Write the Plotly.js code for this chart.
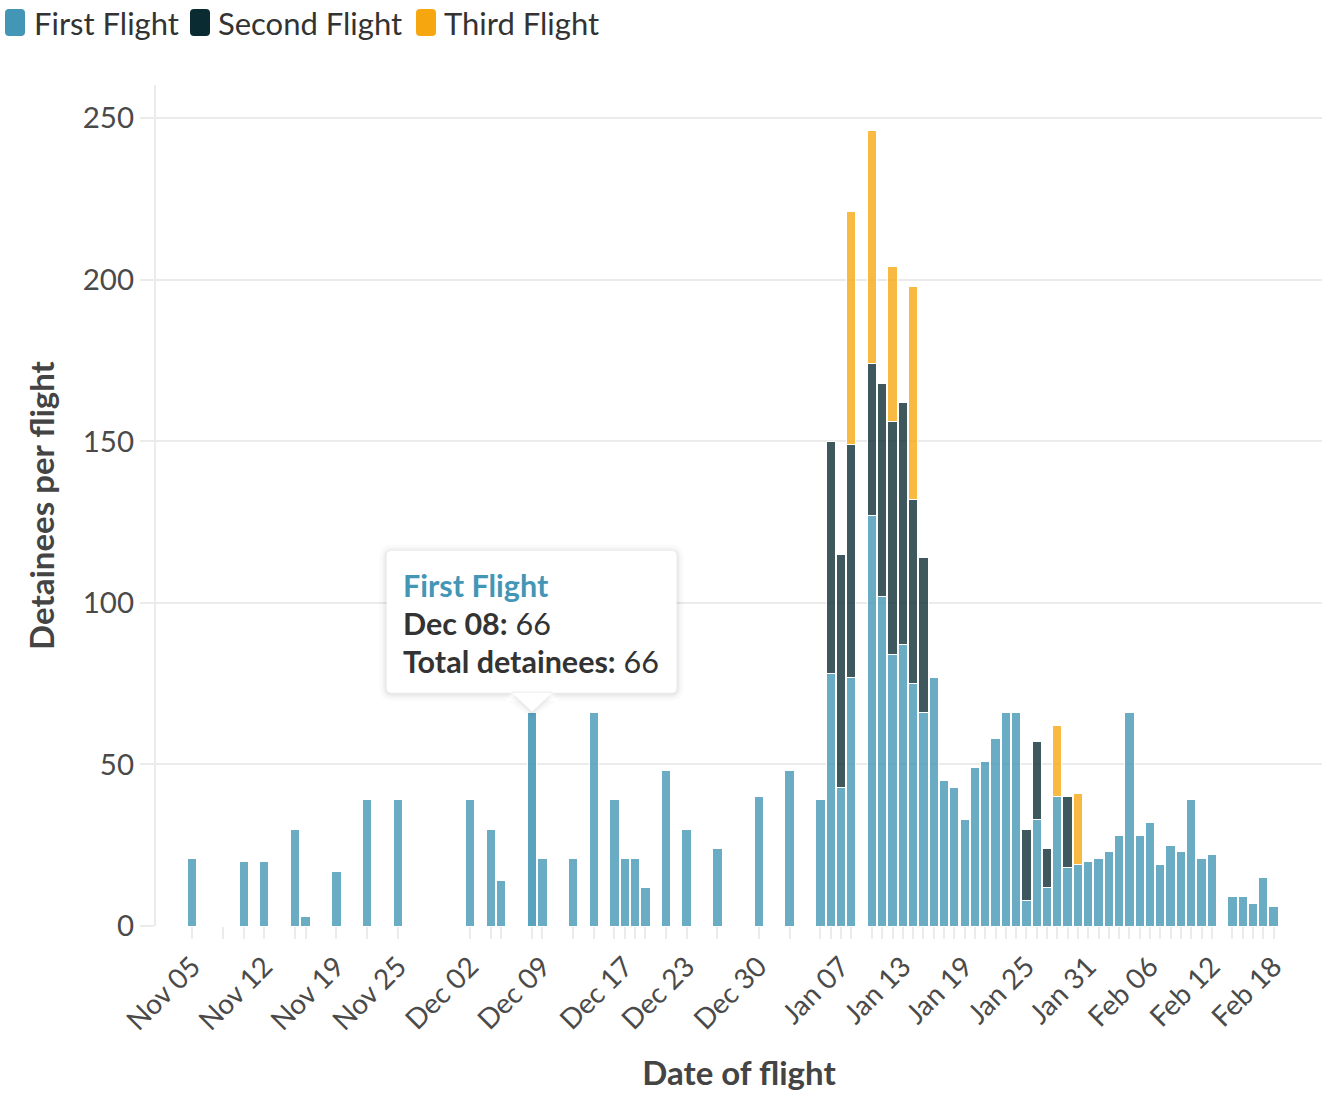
<!DOCTYPE html>
<html>
<head>
<meta charset="utf-8">
<script src="https://cdn.plot.ly/plotly-3.0.1.min.js"></script>
<style>
  html, body { margin: 0; padding: 0; background: #ffffff; }
  #chart { width: 1331px; height: 1104px; }
</style>
</head>
<body>
<div id="chart"></div>
<script>
// ---------- DATA ----------
const dates = [
  '2024-11-05','2024-11-08','2024-11-10','2024-11-12','2024-11-15','2024-11-16','2024-11-19','2024-11-22','2024-11-25',
  '2024-12-02','2024-12-04','2024-12-05','2024-12-08','2024-12-09','2024-12-12','2024-12-14','2024-12-16','2024-12-17',
  '2024-12-18','2024-12-19','2024-12-21','2024-12-23','2024-12-26','2024-12-30','2025-01-02','2025-01-05','2025-01-06',
  '2025-01-07','2025-01-08','2025-01-10','2025-01-11','2025-01-12','2025-01-13','2025-01-14','2025-01-15','2025-01-16',
  '2025-01-17','2025-01-18','2025-01-19','2025-01-20','2025-01-21','2025-01-22','2025-01-23','2025-01-24','2025-01-25',
  '2025-01-26','2025-01-27','2025-01-28','2025-01-29','2025-01-30','2025-01-31','2025-02-01','2025-02-02','2025-02-03',
  '2025-02-04','2025-02-05','2025-02-06','2025-02-07','2025-02-08','2025-02-09','2025-02-10','2025-02-11','2025-02-12',
  '2025-02-14','2025-02-15','2025-02-16','2025-02-17','2025-02-18'
];
const firstFlight = [
  21, 0, 20, 20, 30, 3, 17, 39, 39,
  39, 30, 14, 66, 21, 21, 66, 39, 21,
  21, 12, 48, 30, 24, 40, 48, 39, 78,
  43, 77, 127, 102, 84, 87, 75, 66, 77,
  45, 43, 33, 49, 51, 58, 66, 66, 8,
  33, 12, 40, 18, 19, 20, 21, 23, 28,
  66, 28, 32, 19, 25, 23, 39, 21, 22,
  9, 9, 7, 15, 6
];
const secondFlight = [
  null, null, null, null, null, null, null, null, null,
  null, null, null, null, null, null, null, null, null,
  null, null, null, null, null, null, null, null, 72,
  72, 72, 47, 66, 72, 75, 57, 48, null,
  null, null, null, null, null, null, null, null, 22,
  24, 12, null, 22, null, null, null, null, null,
  null, null, null, null, null, null, null, null, null,
  null, null, null, null, null
];
const thirdFlight = [
  null, null, null, null, null, null, null, null, null,
  null, null, null, null, null, null, null, null, null,
  null, null, null, null, null, null, null, null, null,
  null, 72, 72, null, 48, null, 66, null, null,
  null, null, null, null, null, null, null, null, null,
  null, null, 22, null, 22, null, null, null, null,
  null, null, null, null, null, null, null, null, null,
  null, null, null, null, null
];
const seriesNames = ['First Flight', 'Second Flight', 'Third Flight'];
const labelDates = ['2024-11-05','2024-11-12','2024-11-19','2024-11-25','2024-12-02','2024-12-09','2024-12-17',
  '2024-12-23','2024-12-30','2025-01-07','2025-01-13','2025-01-19','2025-01-25','2025-01-31','2025-02-06',
  '2025-02-12','2025-02-18'];
const tickLabels = ['Nov 05','Nov 12','Nov 19','Nov 25','Dec 02','Dec 09','Dec 17','Dec 23','Dec 30',
  'Jan 07','Jan 13','Jan 19','Jan 25','Jan 31','Feb 06','Feb 12','Feb 18'];
const yTickValues = [0, 50, 100, 150, 200, 250];
const hoverDate = '2024-12-08';
const monthNames = ['Jan','Feb','Mar','Apr','May','Jun','Jul','Aug','Sep','Oct','Nov','Dec'];

// ---------- STYLE ----------
const FONT = 'Lato, "Open Sans", sans-serif';
const solidColors = ['#4396b6', '#0b2b33', '#f6a70f'];
const barColors = ['rgba(67,150,182,0.79)', 'rgba(11,43,51,0.79)', 'rgba(246,167,15,0.79)'];
const hoverBarColor = 'rgba(67,150,182,0.88)';
const DAY = 86400000;

const hIdx = dates.indexOf(hoverDate);
const firstColors = dates.map(d => d === hoverDate ? hoverBarColor : barColors[0]);
const seriesValues = [firstFlight, secondFlight, thirdFlight];

const traces = seriesValues.map((vals, k) => ({
  type: 'bar',
  x: dates,
  y: vals,
  name: seriesNames[k],
  width: 0.9 * DAY,
  marker: {
    color: k === 0 ? firstColors : barColors[k],
    line: { color: '#ffffff', width: 1 }
  },
  showlegend: false,
  hoverinfo: 'skip'
}));

const ticktext = dates.map(d => {
  const j = labelDates.indexOf(d);
  return j >= 0 ? tickLabels[j] : '';
});

// tooltip content from data
const hv = firstFlight[hIdx];
const total = seriesValues.reduce((s, arr) => s + (arr[hIdx] || 0), 0);
const hd = new Date(hoverDate + 'T00:00:00Z');
const hLabel = monthNames[hd.getUTCMonth()] + ' ' + String(hd.getUTCDate()).padStart(2, '0');

function roundRect(x0, y0, x1, y1, r) {
  return `M${x0 + r},${y0} L${x1 - r},${y0} Q${x1},${y0} ${x1},${y0 + r} L${x1},${y1 - r} Q${x1},${y1} ${x1 - r},${y1} ` +
         `L${x0 + r},${y1} Q${x0},${y1} ${x0},${y1 - r} L${x0},${y0 + r} Q${x0},${y0} ${x0 + r},${y0} Z`;
}

const shapes = [];
[[7, 'rgba(0,0,0,0.02)'], [4, 'rgba(0,0,0,0.03)'], [2, 'rgba(0,0,0,0.035)']].forEach(([e, c]) => {
  shapes.push({
    type: 'path', xref: 'x', yref: 'y', xsizemode: 'pixel', ysizemode: 'pixel',
    xanchor: hoverDate, yanchor: hv, layer: 'above',
    path: roundRect(-145.5 - e, 20 - e - 1, 144.5 + e, 162 + e - 1, 6 + e) +
          ` M${-21 - e},${22 - e} L0,${1 - e} L${21 + e},${22 - e} Z`,
    fillcolor: c, line: { width: 0 }
  });
});
shapes.push({
  type: 'path', xref: 'x', yref: 'y', xsizemode: 'pixel', ysizemode: 'pixel',
  xanchor: hoverDate, yanchor: hv, layer: 'above',
  path: roundRect(-145.5, 20, 144.5, 162, 5) + ' M-21,21 L0,1 L21,21 Z',
  fillcolor: '#ffffff', line: { width: 0 }
});
const legendSwatchX = [5, 190, 416];
const legendTextX = [32, 216, 442];
seriesNames.forEach((n, k) => {
  const x0 = legendSwatchX[k] - 156;
  shapes.push({
    type: 'path', xref: 'paper', yref: 'paper', xsizemode: 'pixel', ysizemode: 'pixel',
    xanchor: 0, yanchor: 1, layer: 'above',
    path: roundRect(x0, 85 - 36, x0 + 20, 85 - 9, 4),
    fillcolor: solidColors[k], line: { width: 0 }
  });
});

const annotations = [];
seriesNames.forEach((n, k) => {
  annotations.push({
    xref: 'paper', yref: 'paper', x: 0, y: 1, xanchor: 'left', yanchor: 'middle',
    xshift: legendTextX[k] - 156, yshift: 85 - 23,
    text: n, showarrow: false,
    font: { family: FONT, size: 31, color: '#333333' }
  });
});
const tipLines = [
  { text: `<b>${seriesNames[0]}</b>`, color: solidColors[0], dy: 127.5 },
  { text: `<b>${hLabel}:</b> ${hv}`, color: '#333333', dy: 89.5 },
  { text: `<b>Total detainees:</b> ${total}`, color: '#333333', dy: 51.5 }
];
tipLines.forEach(t => {
  annotations.push({
    xref: 'x', yref: 'y', x: hoverDate, y: hv, xanchor: 'left', yanchor: 'middle',
    xshift: 401 - 532.3, yshift: t.dy,
    text: t.text, showarrow: false,
    font: { family: FONT, size: 30.5, color: t.color }
  });
});

const layout = {
  width: 1331, height: 1104,
  margin: { l: 156, r: 9, t: 85, b: 178, pad: 0 },
  paper_bgcolor: '#ffffff', plot_bgcolor: '#ffffff',
  barmode: 'stack',
  bargap: 0,
  showlegend: false,
  hovermode: false,
  font: { family: FONT, color: '#444444' },
  xaxis: {
    type: 'date',
    range: ['2024-11-01 11:30', '2025-02-22 16:50'],
    tickmode: 'array', tickvals: dates, ticktext: ticktext,
    tickangle: -45,
    ticks: 'outside', ticklen: 12, tickwidth: 2, tickcolor: '#ebebeb',
    showgrid: false, zeroline: false, showline: false,
    tickfont: { family: FONT, size: 28, color: '#4a4a4a' },
    automargin: false,
    title: { text: '<b>Date of flight</b>', font: { family: FONT, size: 33, color: '#444444' }, standoff: 26 }
  },
  yaxis: {
    range: [0, 260.2],
    tickmode: 'array', tickvals: yTickValues,
    ticks: 'outside', ticklen: 14, tickwidth: 2, tickcolor: '#ebebeb',
    showgrid: true, gridcolor: '#ebebeb', gridwidth: 2,
    showline: true, linecolor: '#ebebeb', linewidth: 2,
    zeroline: false,
    tickfont: { family: FONT, size: 29.5, color: '#4a4a4a' },
    automargin: false,
    title: { text: '<b>Detainees per flight</b>', font: { family: FONT, size: 33, color: '#444444' }, standoff: 18 }
  },
  shapes: shapes,
  annotations: annotations
};

Plotly.newPlot('chart', traces, layout, { displayModeBar: false, staticPlot: true });
</script>
</body>
</html>
